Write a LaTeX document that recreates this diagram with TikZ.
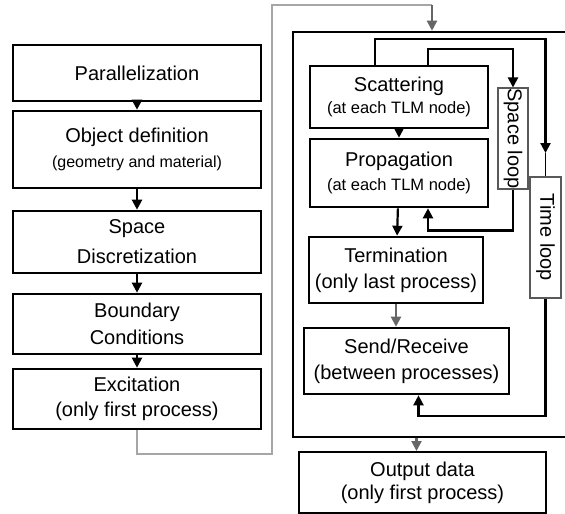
\documentclass[tikz,border=0pt]{standalone}
\usepackage{fontspec}
\setmainfont{Liberation Sans}
\usetikzlibrary{arrows.meta}

\begin{document}
\begin{tikzpicture}[x=1pt, y=-1pt,
    box/.style={draw, line width=2.6pt, align=center, inner sep=0pt,
      font=\fontsize{20}{27}\selectfont},
    loopbox/.style={draw=black!65, line width=2pt, inner sep=0pt,
      font=\fontsize{20}{22}\selectfont},
    flow/.style={line width=2.2pt, -{Triangle[length=10pt,width=10pt]}},
    gflow/.style={flow, black!60},
    loopln/.style={line width=1.8pt}]
  \useasboundingbox (0,0) rectangle (565,514);

  \node[box, minimum width=248pt, minimum height=56pt] (par) at (137,73) {Parallelization};
  \node[box, minimum width=248pt, minimum height=77pt] (obj) at (137,149.5)
    {Object definition\\[-2pt]{\fontsize{16}{20}\selectfont(geometry and material)}};
  \node[box, minimum width=248pt, minimum height=62pt] (spc) at (137,242) {Space\\[3pt]Discretization};
  \node[box, minimum width=248pt, minimum height=60pt] (bnd) at (137,324) {Boundary\\Conditions};
  \node[box, minimum width=248pt, minimum height=60pt] (exc) at (137,399) {Excitation\\[-2pt](only first process)};

  \draw[flow] (par) -- (obj);
  \draw[flow] (obj) -- (spc);
  \draw[flow] (spc) -- (bnd);
  \draw[flow] (bnd) -- (exc);

  \node[draw, line width=2.6pt, minimum width=277pt, minimum height=405pt] (mpi) at (431.5,234.5) {};

  \node[box, minimum width=178pt, minimum height=62pt] (sca) at (399,97)
    {Scattering\\[-5pt]{\fontsize{16.5}{20}\selectfont(at each TLM node)}};
  \node[box, minimum width=178pt, minimum height=68pt] (prp) at (399,173)
    {Propagation\\[-3pt]{\fontsize{16.5}{20}\selectfont(at each TLM node)}};
  \node[box, minimum width=174pt, minimum height=66pt] (trm) at (396,270) {Termination\\[-1pt](only last process)};
  \node[box, minimum width=205pt, minimum height=66pt] (snd) at (406.5,361) {Send/Receive\\[-1pt](between processes)};
  \node[box, line width=2pt, minimum width=247pt, minimum height=61pt] (out) at (422.5,482.5)
    {Output data\\[-4pt](only first process)};

  \node[loopbox, minimum width=30pt, minimum height=99pt] (spl) at (513,138.5) {\rotatebox{-90}{Space loop}};
  \node[loopbox, minimum width=31pt, minimum height=121pt] (tml) at (545.5,237.5) {\rotatebox{-90}{Time loop}};

  \coordinate (in) at (432,5);
  \draw[black!35, line width=1.5pt] (exc.south) |- (272,454) |- (in);
  \draw[gflow] (in) -- (in |- mpi.north);

  \draw[flow] (sca) -- (prp);
  \draw[flow] (prp) -- (trm);
  \draw[gflow] (trm.south) -- (trm.south |- snd.north);
  \coordinate (oin) at ([xshift=-6pt]out.north);
  \draw[gflow] (oin |- mpi.south) -- (oin);

  \coordinate (tmid) at (545.5,153);
  \draw[loopln, flow] ([xshift=-24pt]sca.north) -- ++(0,-26) -| (tmid);
  \draw[loopln] (tmid) -- (tml.north);
  \draw[loopln, flow] (tml.south) -- ++(0,117) -| ([xshift=12pt]snd.south);
  \draw[loopln, flow] ([xshift=29pt]sca.north) -- ++(0,-16) -| (spl.north);
  \draw[loopln, flow] (spl.south) -- ++(0,41) -| ([xshift=29pt]prp.south);
\end{tikzpicture}
\end{document}
